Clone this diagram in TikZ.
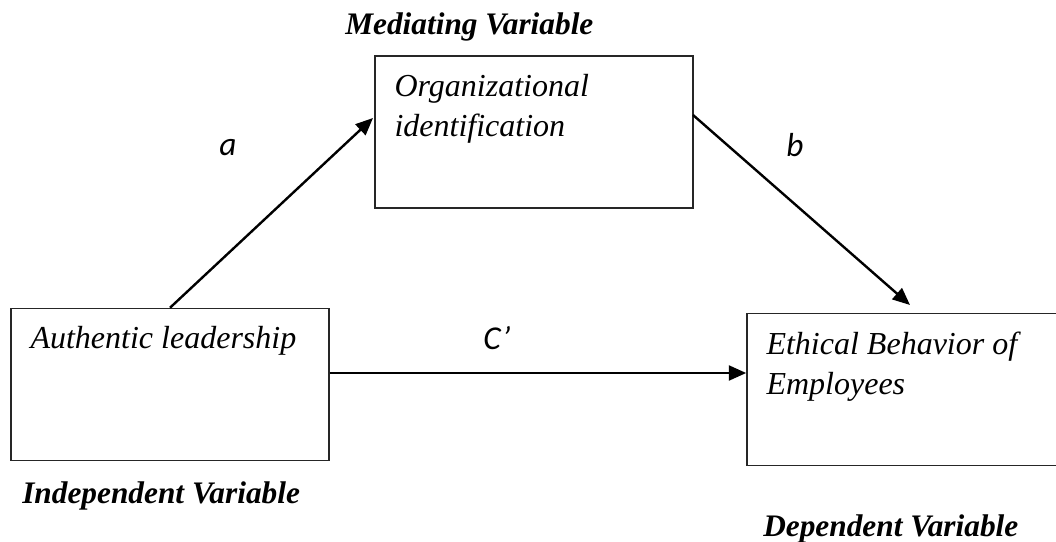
\documentclass[tikz,border=0pt]{standalone}
\usepackage{fontspec}
\setmainfont{Liberation Serif}
\newfontfamily\lblfont{Carlito}
\usetikzlibrary{positioning,arrows.meta}

\begin{document}
\begin{tikzpicture}[x=0.75pt,y=-0.75pt,
	box/.style={draw=black!85, line width=1.1pt, minimum width=238.5pt, minimum height=114pt, inner sep=0pt},
	txt/.style={inner sep=0pt, align=left, font=\fontsize{24}{30}\selectfont\itshape},
	hdr/.style={inner sep=0pt, anchor=base west, font=\fontsize{23.5}{28}\selectfont\bfseries\itshape},
	lbl/.style={inner sep=0pt, font=\fontsize{25}{30}\selectfont\lblfont\itshape},
	arr/.style={line width=1.8pt, -{Triangle[length=13pt,width=11pt]}}]
	\useasboundingbox (0,0) rectangle (1056,542);
	\clip (0,0) rectangle (1056,542);
	\node[box] (org) at (534,132) {};
	\node[box] (auth) at (170,384.5) {};
	\node[box] (ethic) at (906,389.5) {};
	\node[txt, below right=14pt and 15pt of org.north west] (orgtxt) {Organizational\\identification};
	\node[txt, below right=14pt and 15pt of auth.north west] (authtxt) {Authentic leadership};
	\node[txt, below right=14pt and 15pt of ethic.north west] (ethictxt) {Ethical Behavior of\\Employees};
	\node[hdr] (med) at (345,35) {Mediating Variable};
	\node[hdr] (indep) at (22,503) {Independent Variable};
	\node[hdr] (dep) at (763,536) {Dependent Variable};
	\coordinate (aend) at (373,118);
	\coordinate (bstart) at (693,115);
	\coordinate (bend) at (910,305);
	\draw[arr] (auth.north) -- (aend);
	\draw[arr] (bstart) -- (bend);
	\draw[arr, line width=2.2pt] (auth.east |- 0,373) -- (ethic.west |- 0,373);
	\node[lbl] (la) at (228,148) {a};
	\node[lbl] (lb) at (795,145) {b};
	\node[lbl] (lc) at (497,338) {C’};
\end{tikzpicture}
\end{document}
